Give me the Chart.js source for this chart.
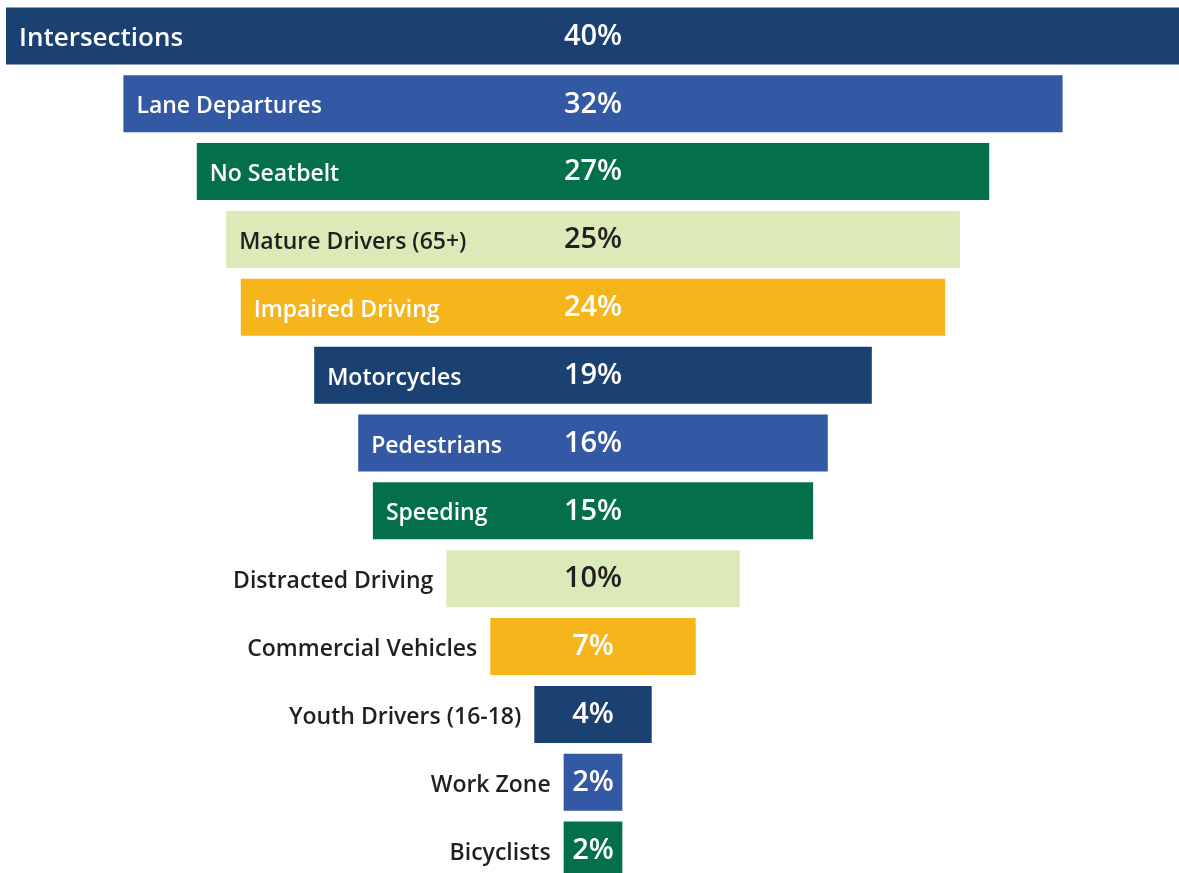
<!DOCTYPE html>
<html>
<head>
<meta charset="utf-8">
<script src="https://cdn.jsdelivr.net/npm/chart.js@4"></script>
<style>
  html, body { margin: 0; padding: 0; background: #ffffff; overflow: hidden; }
  #wrap { width: 1180px; height: 886px; }
</style>
</head>
<body>
<div id="wrap"><canvas id="funnel" width="1180" height="886"></canvas></div>
<script>
// Share of fatalities by emphasis area, widest to narrowest
const categories = [
  'Intersections', 'Lane Departures', 'No Seatbelt', 'Mature Drivers (65+)',
  'Impaired Driving', 'Motorcycles', 'Pedestrians', 'Speeding',
  'Distracted Driving', 'Commercial Vehicles', 'Youth Drivers (16-18)',
  'Work Zone', 'Bicyclists'
];
const percentValues = [40, 32, 27, 25, 24, 19, 16, 15, 10, 7, 4, 2, 2];
const valueLabels = ['40%', '32%', '27%', '25%', '24%', '19%', '16%', '15%', '10%', '7%', '4%', '2%', '2%'];

// Five-colour cycle used down the funnel
const palette = ['#1b4072', '#3358a4', '#03704a', '#dce9b8', '#f7b51c'];
const lightFill = '#dce9b8';
const darkText = '#231f20';

const barColors = percentValues.map((_, i) => palette[i % palette.length]);
// Each bar is centred on zero: it spans -v/2 .. +v/2
const spans = percentValues.map(v => [-v / 2, v / 2]);

const FONT = '"Open Sans", "Liberation Sans", sans-serif';

const funnelLabels = {
  id: 'funnelLabels',
  afterDatasetsDraw(chart) {
    const ctx = chart.ctx;
    const xs = chart.scales.x;
    const meta = chart.getDatasetMeta(0);
    const cx = xs.getPixelForValue(0);
    ctx.save();
    meta.data.forEach((bar, i) => {
      const fill = barColors[i];
      const onLight = fill === lightFill;
      const left = xs.getPixelForValue(spans[i][0]);
      const y = bar.y;

      // value in the middle of the bar
      ctx.font = '600 29px ' + FONT;
      ctx.textAlign = 'center';
      ctx.textBaseline = 'middle';
      ctx.fillStyle = onLight ? darkText : '#ffffff';
      const valueW = ctx.measureText(valueLabels[i]).width;
      ctx.fillText(valueLabels[i], cx, y + 0.5);

      // category name: inside the bar when it fits, otherwise to its left
      const size = i === 0 ? 26 : 23;
      ctx.font = '600 ' + size + 'px ' + FONT;
      const textW = ctx.measureText(categories[i]).width;
      const pad = 13;
      const fits = left + pad + textW < cx - valueW / 2 - 12;
      if (fits) {
        ctx.textAlign = 'left';
        ctx.fillStyle = onLight ? darkText : '#ffffff';
        ctx.fillText(categories[i], left + pad, y + 3);
      } else {
        ctx.textAlign = 'right';
        ctx.fillStyle = darkText;
        ctx.fillText(categories[i], left - pad, y + 3);
      }
    });
    ctx.restore();
  }
};

new Chart(document.getElementById('funnel'), {
  type: 'bar',
  data: {
    labels: categories,
    datasets: [{
      data: spans,
      backgroundColor: barColors,
      borderWidth: 0,
      borderSkipped: false,
      barPercentage: 0.84,
      categoryPercentage: 1.0
    }]
  },
  options: {
    indexAxis: 'y',
    responsive: false,
    animation: false,
    devicePixelRatio: 1,
    layout: { padding: { left: 6, right: 0, top: 2, bottom: 2 } },
    scales: {
      x: { min: -20, max: 20, display: false, grid: { display: false } },
      y: { display: false, grid: { display: false } }
    },
    plugins: {
      legend: { display: false },
      tooltip: { enabled: false }
    }
  },
  plugins: [funnelLabels]
});
</script>
</body>
</html>
